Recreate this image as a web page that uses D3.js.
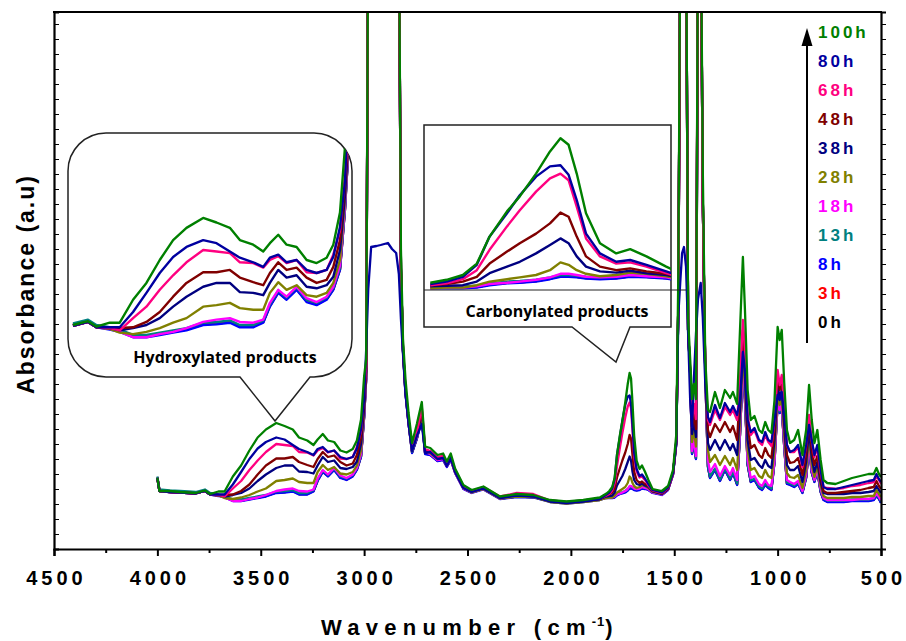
<!DOCTYPE html>
<html>
<head>
<meta charset="utf-8">
<script src="https://cdn.jsdelivr.net/npm/d3@7"></script>
<style>
body { margin: 0; background: #fff; }
svg { display: block; }
</style>
</head>
<body>
<div class="chart"></div>
<script>
var width = 906, height = 641;

// wavenumbers (cm-1) shared by every spectrum
var wavenumber = [4000,3990,3940,3890,3850,3815,3770,3745,3705,3675,
  3635,3595,3555,3515,3475,3425,3385,3345,3315,3275,
  3245,3225,3200,3175,3145,3115,3085,3055,3035,3015,
  3000,2990,2980,2966,2940,2920,2885,2865,2845,2832,
  2822,2812,2800,2785,2768,2745,2721,2705,2680,2645,
  2618,2600,2581,2560,2520,2480,2423,2343,2262,2182,
  2101,2021,1940,1860,1828,1814,1800,1788,1777,1762,
  1751,1737,1725,1716,1709,1702,1694,1682,1668,1656,
  1642,1625,1605,1560,1530,1506,1490,1480,1470,1462,
  1453,1443,1433,1423,1414,1405,1395,1385,1372,1362,
  1350,1337,1327,1303,1279,1255,1230,1216,1196,1182,
  1168,1158,1145,1130,1112,1090,1075,1060,1045,1030,
  1015,1000,990,980,968,955,940,920,901,880,
  862,848,835,822,808,792,778,760,720,680,
  640,600,560,535,522,510,500];

// absorbance (a.u. x1000), one array per irradiation time
var a0h = [143,117,115,114,113,112,117,110,107,104,
  97,97,100,103,106,113,114,116,110,110,
  116,137,155,146,159,143,139,146,159,185,
  264,341,1300,1300,1300,1300,1300,1300,1300,1300,
  561,396,313,251,193,221,261,191,189,177,
  179,165,179,153,121,113,120,101,105,104,
  95,92,95,99,103,103,103,104,108,111,
  112,114,118,122,122,121,119,118,119,122,
  121,119,113,109,119,149,211,500,1300,1300,
  1300,1300,438,351,191,216,181,1300,1300,700,
  351,165,143,159,137,159,139,153,129,229,
  369,299,169,135,139,123,119,129,123,119,
  175,293,273,283,205,131,129,125,131,113,
  143,205,153,135,157,115,99,95,95,95,
  97,97,97,99,107,101,93];
var a3h = [143,117,115,114,113,112,117,110,107,104,
  97,97,100,103,106,113,114,116,110,110,
  116,137,155,146,159,143,139,146,159,185,
  264,341,1300,1300,1300,1300,1300,1300,1300,1300,
  561,396,313,251,193,221,261,191,189,177,
  179,165,179,153,121,113,120,101,105,104,
  95,92,95,99,103,103,103,104,108,111,
  112,114,118,122,122,121,119,118,119,122,
  121,119,113,109,119,149,211,500,1300,1300,
  1300,1300,438,351,191,216,181,1300,1300,700,
  351,165,143,159,137,159,139,153,129,229,
  369,299,169,135,139,123,119,129,123,119,
  175,293,273,283,205,131,129,125,131,113,
  143,205,153,135,157,115,99,95,95,95,
  97,97,97,99,107,101,93];
var a8h = [142,116,114,113,112,111,116,109,106,103,
  96,96,99,102,105,112,113,115,109,109,
  115,136,154,145,158,142,138,145,158,184,
  263,340,1300,1300,1300,1300,1300,1300,1300,1300,
  560,395,312,250,192,220,260,190,188,176,
  178,164,178,152,120,112,119,100,104,103,
  94,91,94,98,102,102,102,103,107,110,
  111,113,117,121,121,120,118,117,118,121,
  120,118,112,108,118,148,210,500,1300,1300,
  1300,1300,438,350,190,215,180,1300,1300,700,
  350,164,142,158,136,158,138,152,128,228,
  368,298,168,134,138,122,118,128,122,118,
  174,292,272,282,204,130,128,124,130,112,
  142,204,152,134,156,114,98,94,94,94,
  96,96,96,98,106,100,92];
var a13h = [145,119,117,116,115,114,119,112,109,106,
  99,99,102,105,108,115,116,118,112,112,
  118,139,157,148,161,145,141,148,161,187,
  266,343,1300,1300,1300,1300,1300,1300,1300,1300,
  563,398,315,253,195,223,263,193,191,179,
  181,167,181,155,123,115,122,103,107,106,
  97,94,97,101,105,105,105,106,110,113,
  114,116,120,124,124,123,121,120,121,124,
  123,121,115,111,121,151,213,500,1300,1300,
  1300,1300,438,353,193,218,183,1300,1300,700,
  353,167,145,161,139,161,141,155,131,231,
  371,301,171,137,141,125,121,131,125,121,
  177,295,275,285,207,133,131,127,133,115,
  145,207,155,137,159,117,101,97,97,97,
  99,99,99,101,109,103,95];
var a18h = [142,116,114,113,112,111,116,109,107,103,
  96,96,100,103,108,116,119,121,116,115,
  119,141,158,149,162,147,142,149,162,190,
  269,345,1300,1300,1300,1300,1300,1300,1300,1300,
  560,398,315,252,198,224,268,194,190,178,
  180,166,180,153,121,113,120,101,106,105,
  95,92,95,99,102,103,103,105,109,111,
  113,116,120,126,126,124,121,120,121,124,
  122,120,113,109,119,149,212,500,1300,1300,
  1300,1300,438,352,196,220,186,1300,1300,700,
  352,178,154,170,146,166,148,162,138,238,
  378,308,178,142,146,130,126,138,128,126,
  178,298,278,288,212,138,134,130,136,116,
  148,212,158,138,160,120,102,98,98,98,
  98,100,100,102,112,104,98];
var a28h = [142,116,114,113,112,111,116,109,107,102,
  100,103,108,115,121,136,138,141,134,132,
  132,154,168,158,164,151,149,154,167,197,
  276,350,1300,1300,1300,1300,1300,1300,1300,1300,
  560,398,316,254,196,226,266,196,192,180,
  182,167,182,154,122,113,120,101,105,104,
  94,91,94,98,102,103,103,107,113,117,
  120,124,132,145,141,132,126,122,124,128,
  126,122,114,110,120,150,214,500,1300,1300,
  1300,1300,438,354,214,240,205,1300,1300,700,
  354,198,174,188,168,186,168,182,158,258,
  388,328,198,158,162,146,142,158,146,142,
  198,308,288,302,228,152,144,142,148,122,
  158,224,168,144,166,126,106,102,102,102,
  104,104,106,106,118,110,104];
var a38h = [142,116,114,113,112,111,116,109,108,105,
  108,112,121,136,149,162,167,167,155,154,
  151,167,184,174,177,162,160,164,175,210,
  282,355,1300,1300,1300,1300,1300,1300,1300,1300,
  560,400,318,255,200,228,272,198,194,182,
  184,168,184,156,124,115,122,103,108,106,
  96,93,96,100,105,106,107,113,127,138,
  146,160,174,185,177,155,138,130,128,131,
  127,124,115,110,120,151,215,500,1300,1300,
  1300,1300,438,356,230,255,224,1300,1300,700,
  356,212,198,218,198,218,198,210,188,278,
  408,348,218,178,182,168,162,178,166,162,
  218,328,302,318,248,168,158,158,166,134,
  174,238,182,154,174,134,112,110,110,110,
  112,112,114,116,126,118,112];
var a48h = [142,116,114,113,112,111,116,109,108,108,
  109,116,129,149,167,181,181,184,174,168,
  164,180,194,184,187,174,167,171,188,223,
  295,360,1300,1300,1300,1300,1300,1300,1300,1300,
  560,400,320,256,204,230,278,198,195,182,
  184,168,184,156,124,115,122,103,108,106,
  96,93,96,100,107,109,113,121,143,163,
  177,193,210,228,221,188,155,138,132,135,
  130,126,116,111,121,152,216,500,1300,1300,
  1300,1300,438,358,244,270,240,1300,1300,700,
  358,238,224,250,234,254,234,246,218,318,
  438,378,248,202,208,188,182,202,188,182,
  238,348,318,338,268,188,172,174,182,148,
  188,258,198,168,186,142,116,112,112,114,
  116,118,122,124,136,126,120];
var a68h = [142,116,114,113,112,111,116,109,108,105,
  121,136,158,177,194,210,208,206,194,193,
  187,197,202,193,197,181,180,184,204,236,
  308,365,1300,1300,1300,1300,1300,1300,1300,1300,
  560,402,322,258,205,232,284,200,196,184,
  186,170,186,158,125,116,124,105,112,110,
  97,94,97,101,107,110,117,132,166,205,
  232,263,285,293,282,238,185,155,143,145,
  138,127,117,112,122,152,218,500,1300,1300,
  1300,1300,438,360,262,290,260,1300,1300,700,
  360,258,248,278,258,284,268,278,258,338,
  458,398,268,228,238,214,208,228,214,206,
  258,358,328,348,288,208,194,194,204,164,
  208,268,218,184,202,154,124,122,120,122,
  126,128,132,134,146,138,130];
var a80h = [142,116,114,113,112,111,116,109,109,109,
  129,154,180,201,214,223,219,208,200,194,
  188,200,204,194,197,184,180,184,201,240,
  300,400,520,604,606,608,612,600,592,550,
  460,390,310,250,196,226,250,192,194,180,
  182,166,182,154,122,114,121,102,107,105,
  95,92,95,100,109,113,121,141,188,227,
  257,288,305,307,291,249,193,160,146,149,
  141,130,118,113,123,152,215,470,540,592,
  604,564,432,298,244,340,430,500,532,464,
  332,264,254,288,262,292,274,286,268,298,
  394,358,258,234,242,218,214,234,218,214,
  258,308,298,314,268,208,194,198,208,168,
  208,248,218,188,208,158,124,120,120,124,
  128,132,136,138,150,140,134];
var a100h = [142,116,116,114,113,112,117,110,115,115,
  145,167,197,223,239,252,246,239,223,217,
  208,219,230,217,214,197,193,200,217,259,
  345,380,1300,1300,1300,1300,1300,1300,1300,1300,
  600,420,340,272,212,250,294,205,202,188,
  191,175,191,161,128,118,125,105,110,108,
  98,95,98,103,111,116,124,143,188,230,
  255,293,330,352,341,293,227,177,160,167,
  155,138,120,116,126,158,230,560,1300,1300,
  1300,1300,460,380,300,330,300,1300,1300,760,
  380,278,274,314,282,318,302,314,290,438,
  584,478,318,258,266,238,232,254,238,232,
  298,444,418,438,332,238,212,218,238,188,
  238,328,258,212,238,178,138,132,130,136,
  142,146,150,150,162,150,144];

var seriesNames = ["0h", "3h", "8h", "13h", "18h", "28h", "38h", "48h", "68h", "80h", "100h"];
var seriesColors = ["#000000", "#ff0000", "#0000ff", "#008080", "#ff00ff", "#808000",
                    "#000080", "#800000", "#ff0080", "#0000a0", "#008000"];
var seriesValues = [a0h, a3h, a8h, a13h, a18h, a28h, a38h, a48h, a68h, a80h, a100h];
var xTickLabels = [4500, 4000, 3500, 3000, 2500, 2000, 1500, 1000, 500];

var series = seriesNames.map(function(n, i) {
    return {
        name: n,
        color: seriesColors[i],
        points: wavenumber.map(function(w, j) { return [w, seriesValues[i][j]]; })
    };
});

var svg = d3.select(".chart").append("svg")
    .attr("width", width)
    .attr("height", height)
    .style("font-family", "'Liberation Sans', Arial, sans-serif");

var x = d3.scaleLinear().domain([4500, 500]).range([54, 881]);
var y = d3.scaleLinear().domain([0, 1074]).range([549, 12]);

var defs = svg.append("defs");
defs.append("clipPath").attr("id", "plotClip")
    .append("rect").attr("x", 54).attr("y", 12).attr("width", 827).attr("height", 537);

// main spectra
var line = d3.line().x(function(d) { return x(d[0]); }).y(function(d) { return y(d[1]); });
svg.append("g").attr("clip-path", "url(#plotClip)")
    .selectAll("path").data(series).enter().append("path")
    .attr("d", function(d) { return line(d.points); })
    .attr("fill", "none")
    .attr("stroke", function(d) { return d.color; })
    .attr("stroke-width", 2.3)
    .attr("stroke-linejoin", "round");

// axes
var xAxis = d3.axisBottom(x).tickValues(xTickLabels).tickSize(7).tickPadding(15).tickFormat(d3.format("d"));
var gx = svg.append("g").attr("transform", "translate(0,549)").call(xAxis);
gx.selectAll(".tick line").attr("stroke-width", 2);
gx.selectAll("text")
    .attr("dx", "2px")
    .style("font-size", "20px").style("font-weight", "bold").style("letter-spacing", "4px")
    .attr("fill", "#000");
var minor = d3.axisBottom(x).tickValues(d3.range(4250, 500, -500)).tickSize(4).tickFormat("");
var gxm = svg.append("g").attr("transform", "translate(0,549)").call(minor);
gxm.select(".domain").remove();
gxm.selectAll(".tick line").attr("stroke-width", 2);

var yTicks = d3.range(30, 1074, 30);
var yAxisL = d3.axisRight(y).tickValues(yTicks).tickSize(5).tickFormat("");
var yAxisR = d3.axisRight(y).tickValues(yTicks).tickSize(5).tickFormat("");
svg.append("g").attr("transform", "translate(54,0)").call(yAxisL);
svg.append("g").attr("transform", "translate(881,0)").call(yAxisR);
svg.selectAll(".domain").attr("stroke-width", 2.2);
svg.append("line").attr("x1", 53).attr("x2", 882).attr("y1", 12).attr("y2", 12)
    .attr("stroke", "#000").attr("stroke-width", 2.2);

// axis titles
var xt = svg.append("text").attr("x", 470).attr("y", 635).attr("text-anchor", "middle")
    .style("font-size", "22px").style("font-weight", "bold").style("letter-spacing", "6.3px");
xt.append("tspan").text("Wavenumber (cm");
xt.append("tspan").attr("dy", -9).style("font-size", "13px").style("letter-spacing", "1px").text("-1");
xt.append("tspan").attr("dy", 9).text(")");

svg.append("text").attr("transform", "translate(34,284) rotate(-90)").attr("text-anchor", "middle")
    .style("font-size", "23px").style("font-weight", "bold").style("letter-spacing", "2px")
    .text("Absorbance (a.u)");

// left inset: hydroxylated region
var r = 38, bx0 = 68, bx1 = 352, by0 = 133, by1 = 377;
var calloutL = "M" + (bx0 + r) + "," + by0 + "H" + (bx1 - r) +
    "A" + r + "," + r + " 0 0 1 " + bx1 + "," + (by0 + r) + "V" + (by1 - r) +
    "A" + r + "," + r + " 0 0 1 " + (bx1 - r) + "," + by1 + "H310L275,421L240," + by1 +
    "H" + (bx0 + r) + "A" + r + "," + r + " 0 0 1 " + bx0 + "," + (by1 - r) +
    "V" + (by0 + r) + "A" + r + "," + r + " 0 0 1 " + (bx0 + r) + "," + by0 + "Z";
defs.append("clipPath").attr("id", "clipL").append("path").attr("d", calloutL);
svg.append("path").attr("d", calloutL).attr("fill", "#fff").attr("stroke", "#222").attr("stroke-width", 1.5);

var xL = d3.scaleLinear().domain([3815, 2985]).range([73, 350]);
var yL = d3.scaleLinear().domain([112, 363]).range([325, 133]);
var lineL = d3.line().x(function(d) { return xL(d[0]); }).y(function(d) { return yL(d[1]); });
svg.append("g").attr("clip-path", "url(#clipL)")
    .selectAll("path").data(series).enter().append("path")
    .attr("d", function(d) { return lineL(d.points.filter(function(p) { return p[0] <= 3815 && p[0] >= 2980; })); })
    .attr("fill", "none")
    .attr("stroke", function(d) { return d.color; })
    .attr("stroke-width", 2.4)
    .attr("stroke-linejoin", "round");
svg.append("text").attr("x", 225).attr("y", 363).attr("text-anchor", "middle")
    .style("font-family", "'Open Sans', sans-serif").style("font-size", "16px").style("font-weight", "bold")
    .text("Hydroxylated products");

// right inset: carbonylated region
var calloutR = "M424,125H671V327H630L616,362L572,327H424Z";
svg.append("path").attr("d", calloutR).attr("fill", "#fff").attr("stroke", "#222").attr("stroke-width", 1.5);
defs.append("clipPath").attr("id", "clipR")
    .append("rect").attr("x", 424).attr("y", 125).attr("width", 247).attr("height", 165);
var xR = d3.scaleLinear().domain([1830, 1620]).range([428, 672]);
var yR = d3.scaleLinear().domain([104, 354]).range([287, 137]);
var lineR = d3.line().x(function(d) { return xR(d[0]); }).y(function(d) { return yR(d[1]); });
svg.append("g").attr("clip-path", "url(#clipR)")
    .selectAll("path").data(series).enter().append("path")
    .attr("d", function(d) { return lineR(d.points.filter(function(p) { return p[0] <= 1835 && p[0] >= 1600; })); })
    .attr("fill", "none")
    .attr("stroke", function(d) { return d.color; })
    .attr("stroke-width", 2.4)
    .attr("stroke-linejoin", "round");
svg.append("line").attr("x1", 424).attr("x2", 686).attr("y1", 290).attr("y2", 290)
    .attr("stroke", "#222").attr("stroke-width", 1.2);
svg.append("text").attr("x", 557).attr("y", 317).attr("text-anchor", "middle")
    .style("font-family", "'Open Sans', sans-serif").style("font-size", "16px").style("font-weight", "bold")
    .text("Carbonylated products");

// legend with time arrow
svg.append("line").attr("x1", 807).attr("x2", 807).attr("y1", 343).attr("y2", 40)
    .attr("stroke", "#000").attr("stroke-width", 2);
svg.append("path").attr("d", "M807,28L801.5,46L812.5,46Z").attr("fill", "#000");
svg.selectAll(".legend").data(series.slice().reverse()).enter().append("text")
    .attr("class", "legend")
    .attr("x", 818)
    .attr("y", function(d, i) { return 38 + i * 29; })
    .attr("fill", function(d) { return d.color; })
    .style("font-size", "17px").style("font-weight", "bold").style("letter-spacing", "3px")
    .text(function(d) { return d.name; });
</script>
</body>
</html>
